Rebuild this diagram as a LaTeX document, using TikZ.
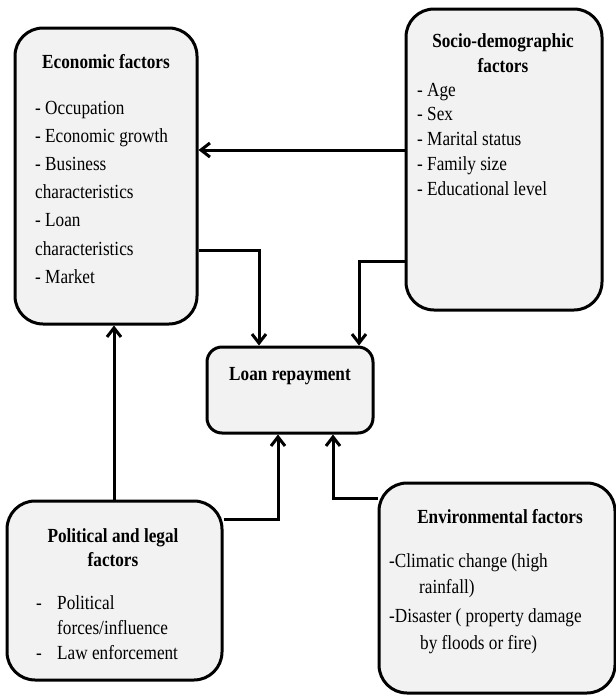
\documentclass[tikz,border=0pt]{standalone}
\usepackage{fontspec}
\setmainfont{Liberation Serif}[FakeStretch=0.86]
\usetikzlibrary{arrows.meta}
\definecolor{boxfill}{HTML}{F2F2F2}
\begin{document}
\begin{tikzpicture}[x=1pt,y=-1pt,font=\fontsize{20}{24}\selectfont,
  box/.style={draw,line width=3pt,fill=boxfill,rounded corners=28pt,inner sep=0pt},
  title/.style={anchor=base,inner sep=0pt,font=\fontsize{20}{24}\selectfont\bfseries},
  item/.style={anchor=base west,inner sep=0pt},
  arr/.style={line width=3pt,-{Straight Barb[length=9pt,width=14pt]}}]
\useasboundingbox (0,0) rectangle (616,697);
% boxes
\node[box,minimum width=182pt,minimum height=296pt] (eco) at (106,176) {};
\node[box,minimum width=196pt,minimum height=301pt] (soc) at (504,159.5) {};
\node[box,rounded corners=15pt,minimum width=166pt,minimum height=86pt] (loan) at (290,390) {};
\node[box,minimum width=215pt,minimum height=179pt] (pol) at (114.5,590.5) {};
\node[box,minimum width=236pt,minimum height=210pt] (env) at (497,588) {};
% titles
\node[title] (eco-t) at (106,68) {Economic factors};
\node[title] (soc-t1) at (503,47) {Socio-demographic};
\node[title] (soc-t2) at (503,72) {factors};
\node[title] (loan-t) at (290,380) {Loan repayment};
\node[title] (pol-t1) at (113,542) {Political and legal};
\node[title] (pol-t2) at (113,566) {factors};
\node[title] (env-t) at (500,523) {Environmental factors};
% lists
\foreach \t [count=\i] in {- Occupation,- Economic growth,- Business,characteristics,- Loan,characteristics,- Market}
  \node[item] (eco-\i) at (35,{114+28.2*(\i-1)}) {\t};
\foreach \t [count=\i] in {- Age,- Sex,- Marital status,- Family size,- Educational level}
  \node[item] (soc-\i) at (417,{96+24.8*(\i-1)}) {\t};
\foreach \t/\y [count=\i] in {Political/609,{forces/influence}/634,Law enforcement/659}
  \node[item] (pol-\i) at (57,\y) {\t};
\foreach \y [count=\i] in {609,659}
  \node[item] (pol-d\i) at (36,\y) {-};
\foreach \x/\y/\t [count=\i] in {389/567/-Climatic change (high,419/593/rainfall),389/622/-Disaster ( property damage,420/649/by floods or fire)}
  \node[item] (env-\i) at (\x,\y) {\t};
% connectors
\coordinate (a1) at (0,150);
\coordinate (b1) at (259,250);
\coordinate (b2) at (359,261);
\coordinate (c1) at (114,0);
\coordinate (c2) at (278,519);
\coordinate (c3) at (333,498);
\draw[arr] (soc.west |- a1) -- (eco.east |- a1);
\draw[arr] (eco.east |- b1) -| (loan.north -| b1);
\draw[arr] (soc.west |- b2) -| (loan.north -| b2);
\draw[arr] (pol.north -| c1) -- (eco.south -| c1);
\draw[arr] (pol.east |- c2) -| (loan.south -| c2);
\draw[arr] (env.west |- c3) -| (loan.south -| c3);
\end{tikzpicture}
\end{document}
